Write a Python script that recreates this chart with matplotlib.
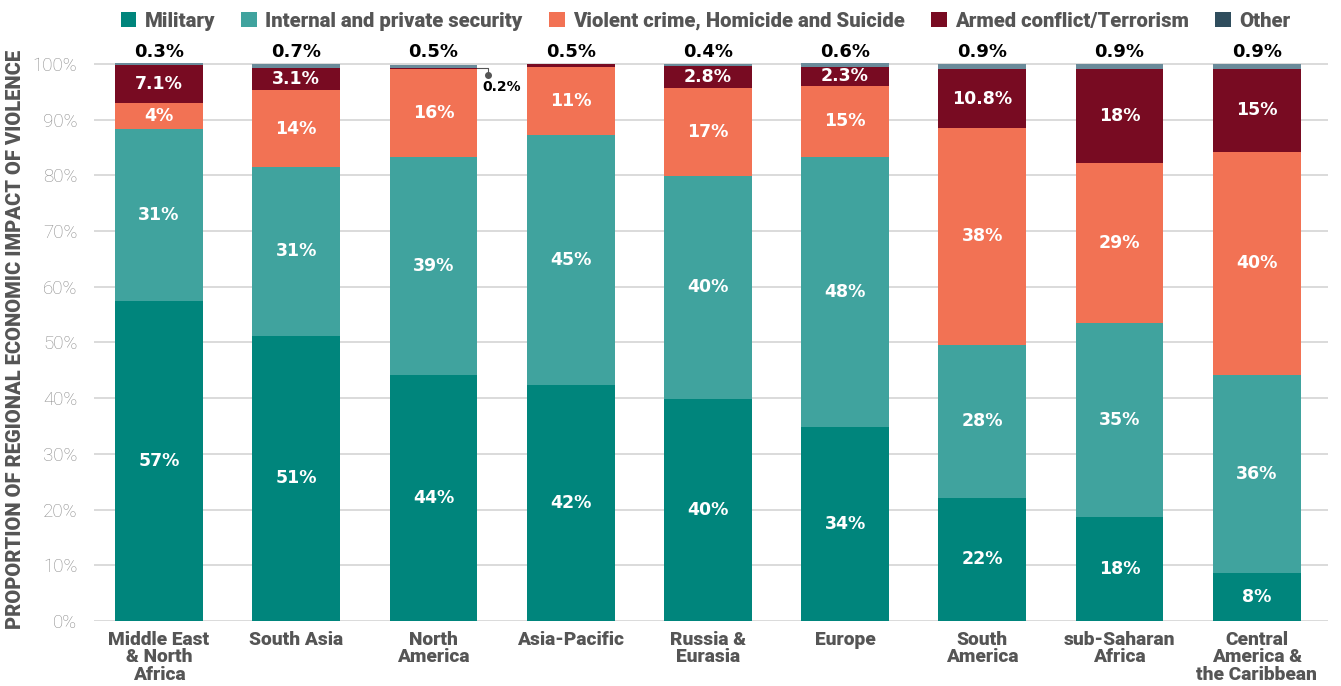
import matplotlib
matplotlib.use("Agg")
import matplotlib.pyplot as plt
from matplotlib.patches import Patch
import numpy as np

regions = ["Middle East\n& North\nAfrica", "South Asia", "North\nAmerica", "Asia-Pacific",
           "Russia &\nEurasia", "Europe", "South\nAmerica", "sub-Saharan\nAfrica",
           "Central\nAmerica &\nthe Caribbean"]
series = ["Military", "Internal and private security", "Violent crime, Homicide and Suicide",
          "Armed conflict/Terrorism", "Other"]

military = [57.4, 51.2, 44.2, 42.4, 39.9, 34.8, 22.1, 18.7, 8.6]
internal = [30.9, 30.3, 39.1, 44.9, 40.0, 48.5, 27.5, 34.8, 35.6]
violent = [4.7, 13.8, 15.8, 12.2, 15.8, 12.8, 38.9, 28.7, 40.0]
armed = [6.8, 4.0, 0.2, 0.5, 3.9, 3.4, 10.6, 16.9, 14.9]
other = [0.3, 0.7, 0.5, 0.0, 0.4, 0.6, 0.9, 0.9, 0.9]

military_lbl = ["57%", "51%", "44%", "42%", "40%", "34%", "22%", "18%", "8%"]
internal_lbl = ["31%", "31%", "39%", "45%", "40%", "48%", "28%", "35%", "36%"]
violent_lbl = ["4%", "14%", "16%", "11%", "17%", "15%", "38%", "29%", "40%"]
armed_lbl = ["7.1%", "3.1%", "", "", "2.8%", "2.3%", "10.8%", "18%", "15%"]
top_lbl = ["0.3%", "0.7%", "0.5%", "0.5%", "0.4%", "0.6%", "0.9%", "0.9%", "0.9%"]
callout_lbl = "0.2%"

colors = ["#00857c", "#40a39e", "#f27254", "#780b22", "#6a8b9a"]
legend_colors = ["#00857c", "#40a39e", "#f27254", "#780b22", "#2f4d5d"]

plt.rcParams['font.family'] = ['Roboto', 'DejaVu Sans']
VAL_FONT = ['DejaVu Sans']

fig = plt.figure(figsize=(13.41, 6.86), dpi=100)
ax = fig.add_axes([94/1341, 65/686, 1234/1341, (621-58.4)/686])

x = np.arange(len(regions))
w = 0.64
data = [military, internal, violent, armed, other]
labels = [military_lbl, internal_lbl, violent_lbl, armed_lbl]
bottom = np.zeros(len(regions))
for i, (vals, c) in enumerate(zip(data, colors)):
    vals = np.array(vals)
    ax.bar(x, vals, w, bottom=bottom, color=c, zorder=3, clip_on=False, linewidth=0)
    if i < 4:
        for j in range(len(x)):
            if labels[i][j]:
                ax.text(x[j], bottom[j] + vals[j]/2, labels[i][j], ha='center', va='center',
                        color='white', fontsize=12.5, fontweight='bold', family=VAL_FONT, zorder=5)
    bottom = bottom + vals

for j in range(len(x)):
    ax.text(x[j], 100.6, top_lbl[j], ha='center', va='bottom', color='black',
            fontsize=13, fontweight='bold', family=VAL_FONT, zorder=5, clip_on=False)

# callout for North America 0.2%
j = 2
yb = military[j] + internal[j] + violent[j] + armed[j] / 2
xe = x[j] + w/2
ax.plot([xe, xe + 0.08, xe + 0.08], [yb, yb, yb - 1.2], color='#555555', lw=0.8, zorder=4, clip_on=False)
ax.plot([xe + 0.08], [yb - 1.2], 'o', color='#555555', ms=4, zorder=4, clip_on=False)
ax.text(xe + 0.04, yb - 2.1, callout_lbl, ha='left', va='top', color='black', fontsize=10,
        fontweight='bold', family=VAL_FONT, zorder=5)

ax.set_xlim(-0.474, 8.52)
ax.set_ylim(0, 101)
ax.set_yticks(np.arange(0, 101, 10))
ax.set_yticklabels([f"{v}%" for v in range(0, 101, 10)], color='#8a8a8a', fontsize=13.5, fontweight='light')
ax.set_xticks(x)
ax.set_xticklabels(regions, color='#555555', fontsize=13.8, fontweight='heavy', linespacing=0.98)
ax.tick_params(axis='both', length=0)
ax.tick_params(axis='x', pad=7)
ax.tick_params(axis='y', pad=12)
ax.grid(axis='y', color='#d4d4d4', lw=1.2, zorder=0)
for s in ax.spines.values():
    s.set_visible(False)

ax.set_ylabel("PROPORTION OF REGIONAL ECONOMIC IMPACT OF VIOLENCE", color='#555555',
              fontsize=14.5, fontweight='heavy')
ax.yaxis.set_label_coords(-0.056, 0.5)

handles = [Patch(facecolor=c, edgecolor='none') for c in legend_colors]
fig.legend(handles, series, loc='center', bbox_to_anchor=(0.526, 0.969), ncol=5, frameon=False,
           handlelength=0.78, handleheight=0.78, handletextpad=0.4, columnspacing=1.3,
           prop={'size': 14.6, 'weight': 'heavy'}, labelcolor='#555555')

fig.savefig("out.png", dpi=100)
